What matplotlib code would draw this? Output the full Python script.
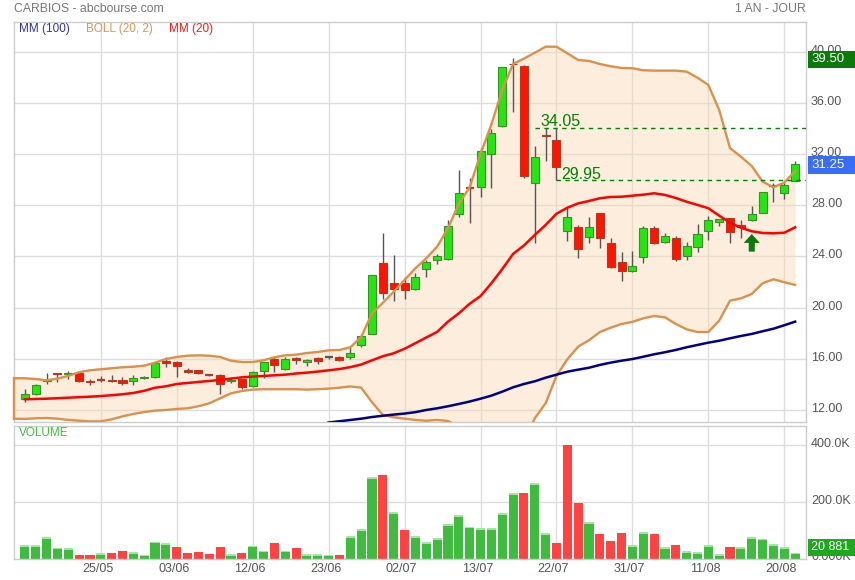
import matplotlib
matplotlib.use('Agg')
import matplotlib.pyplot as plt
import numpy as np
from matplotlib.patches import Rectangle, Polygon
from matplotlib.transforms import ScaledTranslation, blended_transform_factory

plt.rcParams['font.family'] = ['Liberation Sans', 'DejaVu Sans']

# ---------------- data ----------------
tick_idx = [7, 14, 21, 28, 35, 42, 49, 56, 63, 70]
tick_labels = ['25/05', '03/06', '12/06', '23/06', '02/07', '13/07', '22/07', '31/07', '11/08', '20/08']

opens = [12.88, 13.23, 14.24, 14.89, 14.79, 14.87, 14.29, 14.32, 14.34, 14.34,
         14.24, 14.48, 14.55, 15.83, 15.73, 15.15, 15.10, 14.74, 14.71, 14.24,
         14.40, 13.90, 15.02, 16.01, 15.18, 16.04, 15.73, 16.04, 16.12, 16.16,
         16.16, 17.05, 17.96, 23.46, 21.90, 21.90, 21.48, 22.99, 23.70, 23.82,
         27.29, 29.38, 29.45, 31.98, 34.21, 39.05, 38.88, 29.71, 33.45, 33.09,
         25.96, 26.32, 25.49, 27.36, 25.02, 23.54, 22.83, 23.93, 26.19, 25.10,
         25.41, 24.01, 24.71, 25.96, 26.66, 26.98, 26.45, 26.82, 27.41, 29.50,
         28.93, 29.91]
highs = [13.64, 14.03, 14.87, 14.92, 15.05, 14.92, 14.40, 14.63, 14.71, 14.58,
         14.76, 14.66, 15.75, 16.12, 15.80, 15.26, 15.15, 14.81, 14.81, 14.55,
         14.45, 15.07, 15.78, 16.16, 16.12, 16.16, 16.01, 16.16, 16.22, 16.20,
         16.90, 17.88, 22.55, 25.85, 24.11, 22.37, 22.68, 23.72, 24.19, 26.84,
         30.75, 30.10, 32.45, 33.95, 38.80, 39.50, 38.95, 32.63, 34.05, 34.05,
         27.88, 26.45, 27.05, 27.40, 25.41, 24.34, 24.42, 26.38, 26.38, 25.83,
         25.57, 25.15, 26.53, 27.16, 26.95, 27.02, 26.84, 27.96, 29.05, 29.71,
         29.84, 31.45]
lows = [12.65, 13.20, 14.03, 14.21, 14.45, 14.20, 13.98, 14.16, 14.19, 13.98,
        13.98, 14.40, 14.50, 15.38, 14.55, 14.87, 14.83, 14.66, 13.27, 14.13,
        13.66, 13.82, 14.52, 15.00, 15.12, 15.57, 15.46, 15.62, 16.01, 15.85,
        15.96, 16.95, 17.90, 20.65, 20.54, 20.65, 21.35, 22.41, 23.38, 23.70,
        27.10, 26.63, 28.66, 29.37, 34.10, 35.26, 30.10, 25.07, 31.48, 29.95,
        25.18, 23.85, 25.02, 24.63, 23.10, 22.10, 22.80, 23.51, 25.00, 25.05,
        23.66, 23.72, 24.37, 25.28, 26.38, 25.07, 25.41, 26.80, 27.38, 28.27,
        28.46, 29.85]
closes = [13.23, 13.93, 14.34, 14.79, 14.89, 14.24, 14.19, 14.31, 14.24, 14.09,
          14.50, 14.58, 15.70, 15.70, 15.41, 14.95, 14.87, 14.73, 14.00, 14.37,
          13.77, 14.97, 15.73, 15.49, 16.01, 15.88, 15.88, 15.83, 16.12, 15.88,
          16.43, 17.78, 22.52, 21.16, 21.43, 21.35, 22.37, 23.54, 24.01, 26.35,
          28.93, 29.37, 32.23, 33.62, 38.77, 39.00, 30.30, 31.74, 33.41, 30.96,
          27.05, 24.55, 26.32, 25.41, 23.15, 22.86, 23.23, 26.19, 25.02, 25.57,
          23.77, 24.79, 25.73, 26.82, 26.90, 25.93, 26.32, 27.31, 29.05, 29.52,
          29.55, 31.25]

# Bollinger bands: first value sits one session before the first candle
boll_upper = [14.48, 14.48, 14.42, 14.32, 14.45, 14.66, 14.95, 15.10, 15.18, 15.26,
              15.34, 15.38, 15.46, 15.70, 15.98, 16.14, 16.24, 16.27, 16.24, 16.14,
              15.85, 15.75, 15.75, 15.88, 16.12, 16.27, 16.32, 16.45, 16.53, 16.66,
              16.69, 16.90, 17.70, 19.55, 20.38, 21.24, 22.16, 23.07, 23.85, 24.76,
              26.19, 28.10, 29.40, 32.00, 34.30, 37.00, 39.03, 39.45, 39.91, 40.38,
              40.38, 39.87, 39.34, 39.27, 39.03, 38.85, 38.72, 38.70, 38.54, 38.51,
              38.51, 38.51, 38.43, 37.96, 37.39, 35.44, 32.45, 31.79, 31.06, 29.84,
              29.40, 29.76, 30.67]
boll_lower = [11.32, 11.30, 11.35, 11.37, 11.32, 11.22, 11.16, 11.11, 11.11, 11.27,
              11.50, 11.69, 11.84, 11.95, 12.00, 12.08, 12.13, 12.29, 12.52, 12.91,
              13.30, 13.48, 13.59, 13.62, 13.62, 13.62, 13.62, 13.59, 13.62, 13.67,
              13.74, 13.84, 13.74, 12.60, 11.61, 11.43, 11.32, 11.22, 11.16, 11.22,
              11.14, 10.70, 9.80, 8.80, 7.80, 7.00, 7.20, 9.50, 11.35, 12.52,
              14.66, 15.96, 16.95, 17.45, 18.09, 18.43, 18.72, 18.88, 19.16, 19.34,
              19.24, 18.72, 18.30, 18.09, 18.09, 18.98, 20.54, 20.72, 21.06, 21.90,
              22.21, 21.98, 21.77]
ma20 = [12.84, 12.86, 12.88, 12.92, 12.96, 13.00, 13.04, 13.09, 13.15, 13.23,
        13.33, 13.50, 13.74, 13.85, 14.03, 14.11, 14.19, 14.27, 14.34, 14.45,
        14.55, 14.61, 14.66, 14.71, 14.76, 14.85, 14.92, 15.00, 15.10, 15.20,
        15.35, 15.55, 15.88, 16.20, 16.43, 16.78, 17.22, 17.66, 18.10, 18.90,
        19.55, 20.30, 20.90, 21.90, 23.00, 24.19, 24.85, 25.67, 26.45, 27.33,
        27.80, 28.14, 28.33, 28.54, 28.64, 28.66, 28.74, 28.82, 28.93, 28.80,
        28.56, 28.27, 28.02, 27.76, 27.18, 26.63, 26.24, 25.96, 25.83, 25.80,
        25.85, 26.27]
# MM(100) visible from session 28 on
ma100_start = 28
ma100 = [11.02, 11.12, 11.22, 11.32, 11.45, 11.55, 11.64, 11.72, 11.83, 12.00,
         12.13, 12.29, 12.47, 12.66, 12.88, 13.12, 13.43, 13.77, 14.03, 14.24,
         14.52, 14.76, 14.99, 15.15, 15.30, 15.52, 15.70, 15.85, 15.98, 16.16,
         16.35, 16.51, 16.69, 16.90, 17.08, 17.26, 17.41, 17.60, 17.78, 17.94,
         18.15, 18.35, 18.62, 18.90]

volume_k = [48, 47, 76, 38, 36, 12, 11, 19, 21, 26,
            22, 14, 59, 53, 40, 20, 22, 15, 42, 16,
            19, 45, 28, 56, 28, 36, 15, 16, 14, 11,
            79, 104, 286, 293, 162, 100, 79, 58, 72, 120,
            153, 112, 107, 107, 160, 229, 230, 266, 88, 54,
            400, 195, 127, 86, 61, 88, 47, 93, 86, 41,
            47, 26, 22, 46, 15, 40, 41, 74, 70, 51,
            40, 20.881]
volume_dir = "GGGGGRRGRRGGGGRRRRRGRGGRGRGGGRGGGRGRGGGGGGGGGGRGGRRRGRRRGGRGRGGGGRGGGGGG"

resistance = 34.05
resistance_from = 47
support = 29.95
support_from = 49
signal_idx = 67
last_close = 31.25
period_high = 39.50
last_volume_label = '20 881'

# ---------------- figure ----------------
W, H = 855, 580
fig = plt.figure(figsize=(W / 100, H / 100), dpi=100)


def rect(l, t, r, b):
    return [l / W, 1 - b / H, (r - l) / W, (b - t) / H]


def ftext(x, y, s, **kw):
    fig.text(x / W, 1 - y / H, s, **kw)


ax = fig.add_axes(rect(14, 22, 806, 421.5))
axv = fig.add_axes(rect(14, 425.5, 806, 558.5))

GRID = '#dddddd'
FRAME = '#cccccc'
LABEL = '#555555'
AXFS = 9

n = len(closes)
xs = np.arange(n)
xb = np.arange(-1, n)

for a in (ax, axv):
    a.set_xlim(-1.0, 72.0)
    a.set_xticks(tick_idx)
    a.grid(True, color=GRID, lw=1, zorder=0)
    a.set_axisbelow(True)
    for s in a.spines.values():
        s.set_color(FRAME)
        s.set_linewidth(1)
    a.yaxis.tick_right()
    a.tick_params(length=0, labelsize=AXFS, labelcolor=LABEL, pad=3.6)

# ---- price panel ----
ax.set_ylim(11.10, 42.31)
ax.set_yticks(range(12, 41, 4))
ax.set_yticklabels(['%.2f' % v for v in range(12, 41, 4)])
ax.tick_params(labelbottom=False)
for lab in ax.get_yticklabels():
    lab.set_transform(lab.get_transform() + ScaledTranslation(0, 2.5 / 100, fig.dpi_scale_trans))

band_line = '#d8914f'
ax.fill_between(xb, boll_lower, boll_upper, color='#f9d9b5', alpha=0.45, lw=0, zorder=1)
ax.plot(xb, boll_upper, color=band_line, lw=1.7, zorder=6)
ax.plot(xb, boll_lower, color=band_line, lw=1.7, zorder=6)
ax.plot([xb[0], xb[0]], [boll_lower[0], boll_upper[0]], color=band_line, lw=1.7, zorder=6, clip_on=False)

bw = 0.74
for i in range(n):
    o, h, l, c = opens[i], highs[i], lows[i], closes[i]
    ax.vlines(i, l, h, color='#555555', lw=1, zorder=3)
    if abs(c - o) < 0.04:
        col = '#b03a2e' if c < o else '#555555'
        ax.hlines(c, i - bw / 2, i + bw / 2, color=col, lw=1.6, zorder=4)
    elif c > o:
        ax.add_patch(Rectangle((i - bw / 2, o), bw, c - o, facecolor='#22e810',
                               edgecolor='#3a8f2a', lw=0.8, zorder=4))
    else:
        ax.add_patch(Rectangle((i - bw / 2, c), bw, o - c, facecolor='#ff1400',
                               edgecolor='#b23a22', lw=0.8, zorder=4))

ax.plot(xs, ma20, color='#ff0000', lw=1.8, zorder=7)
ax.plot(np.arange(ma100_start, ma100_start + len(ma100)), ma100, color='#000080', lw=1.8, zorder=7)

# resistance / support
dash_col = '#008000'
ax.hlines(resistance, resistance_from, 72, colors=dash_col, linestyles=(0, (3.2, 3.2)), lw=1, zorder=8)
ax.hlines(support, support_from, 72, colors=dash_col, linestyles=(0, (3.2, 3.2)), lw=1, zorder=8)
up = ScaledTranslation(0, 1.5 / 100, fig.dpi_scale_trans)
ax.text(resistance_from + 0.5, resistance, '%.2f' % resistance, color=dash_col, fontsize=11.5,
        va='baseline', ha='left', transform=ax.transData + up, zorder=9)
ax.text(support_from + 0.45, support, '%.2f' % support, color=dash_col, fontsize=11.5,
        va='baseline', ha='left', transform=ax.transData + up, zorder=9)

# signal arrow under candle
tip = lows[signal_idx] - 1.05
hw, sw, hh, tot = 0.74, 0.28, 0.70, 1.38
arrow = Polygon([(signal_idx, tip), (signal_idx + hw, tip - hh), (signal_idx + sw, tip - hh),
                 (signal_idx + sw, tip - tot), (signal_idx - sw, tip - tot),
                 (signal_idx - sw, tip - hh), (signal_idx - hw, tip - hh)],
                closed=True, facecolor='#0a7a0a', edgecolor='none', zorder=9)
ax.add_patch(arrow)

# right-side value boxes
bt = blended_transform_factory(fig.transFigure, ax.transData)
down = ScaledTranslation(0, -1.5 / 100, fig.dpi_scale_trans)
for val, col in ((period_high, '#0b7a0b'), (last_close, '#3b6cf4')):
    ax.add_patch(Rectangle((808 / W, val - 0.69), 47 / W, 1.375, transform=bt + down,
                           facecolor=col, edgecolor='none', clip_on=False, zorder=10))
    ax.text(811 / W, val, '%.2f' % val, transform=bt + down, color='white', fontsize=9.5,
            va='center', ha='left', zorder=11, clip_on=False)

# ---- volume panel ----
vol = np.array(volume_k) * 1000
vcols = ['#3fbb3f' if d == 'G' else '#ff4242' for d in volume_dir]
axv.set_ylim(0, 468000)
axv.set_yticks([0, 200000, 400000])
axv.set_yticklabels(['0.000K', '200.0K', '400.0K'])
for lab in axv.get_yticklabels():
    lab.set_transform(lab.get_transform() + ScaledTranslation(0, 2.5 / 100, fig.dpi_scale_trans))
axv.bar(xs, vol, width=0.84, color=vcols, zorder=2)
stripe = 6000
green_idx = [i for i, d in enumerate(volume_dir) if d == 'G']
axv.bar(green_idx, [stripe] * len(green_idx), bottom=vol[green_idx] - stripe, width=0.84,
        color='#a6e3a6', zorder=3)
axv.set_xticklabels(tick_labels)
axv.tick_params(axis='x', pad=3.0, labelsize=AXFS, labelcolor=LABEL)
for lab in axv.get_xticklabels():
    lab.set_transform(lab.get_transform() + ScaledTranslation(-3 / 100, 0, fig.dpi_scale_trans))

axv.add_patch(Rectangle((808 / W, 0.019), 47 / W, 0.128,
                        transform=blended_transform_factory(fig.transFigure, axv.transAxes),
                        facecolor='#1ea81e', edgecolor='none', clip_on=False, zorder=10))
axv.text(811 / W, 0.083, last_volume_label,
         transform=blended_transform_factory(fig.transFigure, axv.transAxes),
         color='white', fontsize=9, va='center', ha='left', zorder=11, clip_on=False)

# ---- texts ----
ftext(14, 9, 'CARBIOS - abcbourse.com', color='#777777', fontsize=8.8, va='center', ha='left')
ftext(806, 9, '1 AN - JOUR', color='#777777', fontsize=8.8, va='center', ha='right')
ftext(19, 29, 'MM (100)', color='#333399', fontsize=8.5, va='center', ha='left')
ftext(86, 29, 'BOLL (20, 2)', color='#d9965a', fontsize=8.5, va='center', ha='left')
ftext(169, 29, 'MM (20)', color='#ee1c1c', fontsize=8.5, va='center', ha='left')
ftext(19, 433, 'VOLUME', color='#3fbb3f', fontsize=8.5, va='center', ha='left')

fig.savefig('out.png', dpi=100)
